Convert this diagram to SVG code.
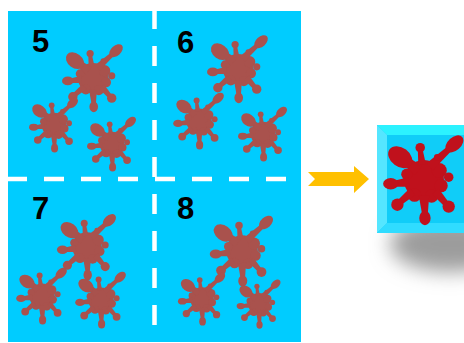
<svg xmlns="http://www.w3.org/2000/svg" xmlns:xlink="http://www.w3.org/1999/xlink" width="464" height="343" viewBox="0 0 464 343">
  <style>
    .num { font-family: "Liberation Sans", "DejaVu Sans", sans-serif; font-weight: bold; font-size: 31px; fill: #000; }
    .divider { stroke: #fff; stroke-width: 4.5; stroke-dasharray: 20 17; fill: none; }
    .brown { fill: #A9524D; }
    .red { fill: #C0111C; }
  </style>
  <defs>
    <!-- ink splat, body centred at 0,0; fill comes from the <use> -->
    <g id="splat">
      <circle r="21"/>
      <circle cx="16" cy="-10" r="8"/>
      <circle cx="18" cy="6" r="7"/>
      <circle cx="-10" cy="16" r="7"/>
      <circle cx="8" cy="17" r="7"/>
      <circle cx="-18" cy="-6" r="6"/>
      <path d="M-2.3,-14.7 L-17.2,-24.5 L-22.8,-17.5 L-9.7,-5.3 Z"/>
      <ellipse cx="-25" cy="-24" rx="14" ry="10" transform="rotate(37 -25 -24)"/>
      <path d="M2,-16.5 L-1.5,-32.3 L-6.5,-31.7 L-6,-15.5 Z"/>
      <circle cx="-4" cy="-34" r="5"/>
      <path d="M9.4,-10.3 L30,-31.8 L26,-36.2 L2.6,-17.7 Z"/>
      <ellipse cx="32" cy="-38" rx="11" ry="7" transform="rotate(-42 32 -38)"/>
      <path d="M-16.6,-3 L-32.4,1 L-31.6,7 L-15.4,7 Z"/>
      <ellipse cx="-35" cy="4" rx="8" ry="6"/>
      <path d="M-9,15.4 L-24,26.3 L-28,21.7 L-15,8.6 Z"/>
      <circle cx="-28" cy="26" r="6.5"/>
      <path d="M5.5,15.7 L4,35.9 L-2,36.1 L-5.5,16.3 Z"/>
      <ellipse cx="1" cy="40" rx="6" ry="7.5"/>
      <path d="M15.4,9 L26.3,24 L21.7,28 L8.6,15 Z"/>
      <circle cx="26" cy="28" r="6.5"/>
      <circle cx="26" cy="-3" r="5"/>
      <circle cx="14" cy="-24" r="3.5"/>
    </g>
    <filter id="soft" x="-50%" y="-50%" width="200%" height="200%">
      <feGaussianBlur stdDeviation="10"/>
    </filter>
  </defs>

  <!-- four-panel grid -->
  <g id="grid">
    <rect x="8" y="11" width="293" height="331" fill="#00CCFF"/>
    <line class="divider" x1="154.5" y1="9" x2="154.5" y2="343"/>
    <line class="divider" x1="7" y1="179" x2="301" y2="179"/>
  </g>

  <g id="panel5">
    <text class="num" x="32" y="52">5</text>
    <use xlink:href="#splat" class="brown" transform="translate(93 78) scale(0.72)"/>
    <use xlink:href="#splat" class="brown" transform="translate(54 125) scale(0.58)"/>
    <use xlink:href="#splat" class="brown" transform="translate(112 144) scale(0.58)"/>
  </g>

  <g id="panel6">
    <text class="num" x="177" y="53">6</text>
    <use xlink:href="#splat" class="brown" transform="translate(238 69) scale(0.72)"/>
    <use xlink:href="#splat" class="brown" transform="translate(199 121) scale(0.6)"/>
    <use xlink:href="#splat" class="brown" transform="translate(263 134) scale(0.58)"/>
  </g>

  <g id="panel7">
    <text class="num" x="32" y="219">7</text>
    <use xlink:href="#splat" class="brown" transform="translate(87 247) scale(0.7)"/>
    <use xlink:href="#splat" class="brown" transform="translate(42 296) scale(0.6)"/>
    <use xlink:href="#splat" class="brown" transform="translate(101 300) scale(0.6)"/>
  </g>

  <g id="panel8">
    <text class="num" x="177" y="219">8</text>
    <use xlink:href="#splat" class="brown" transform="translate(242 251) scale(0.75)"/>
    <use xlink:href="#splat" class="brown" transform="translate(202 299) scale(0.56)"/>
    <use xlink:href="#splat" class="brown" transform="translate(259 304) scale(0.52)"/>
  </g>

  <!-- connector -->
  <g id="connectors">
    <polygon points="308,172 354,172 354,166 369,179 354,193 354,186 308,186 315,179" fill="#FFC000"/>
  </g>

  <!-- result tile with drop shadow -->
  <g id="result">
    <ellipse cx="450" cy="244" rx="60" ry="28" fill="#9C9C9C" filter="url(#soft)"/>
    <rect x="377" y="125" width="108" height="108" fill="#14D2FA"/>
    <polygon points="377,125 485,125 475,135 387,135" fill="#2CF2FF"/>
    <polygon points="377,125 387,135 387,223 377,233" fill="#55E6FF"/>
    <polygon points="377,233 387,223 475,223 485,233" fill="#30DCFF"/>
    <rect x="387" y="135" width="88" height="88" fill="#10CDF8"/>
    <use xlink:href="#splat" class="red" transform="translate(424 180) scale(0.95)"/>
  </g>
</svg>
